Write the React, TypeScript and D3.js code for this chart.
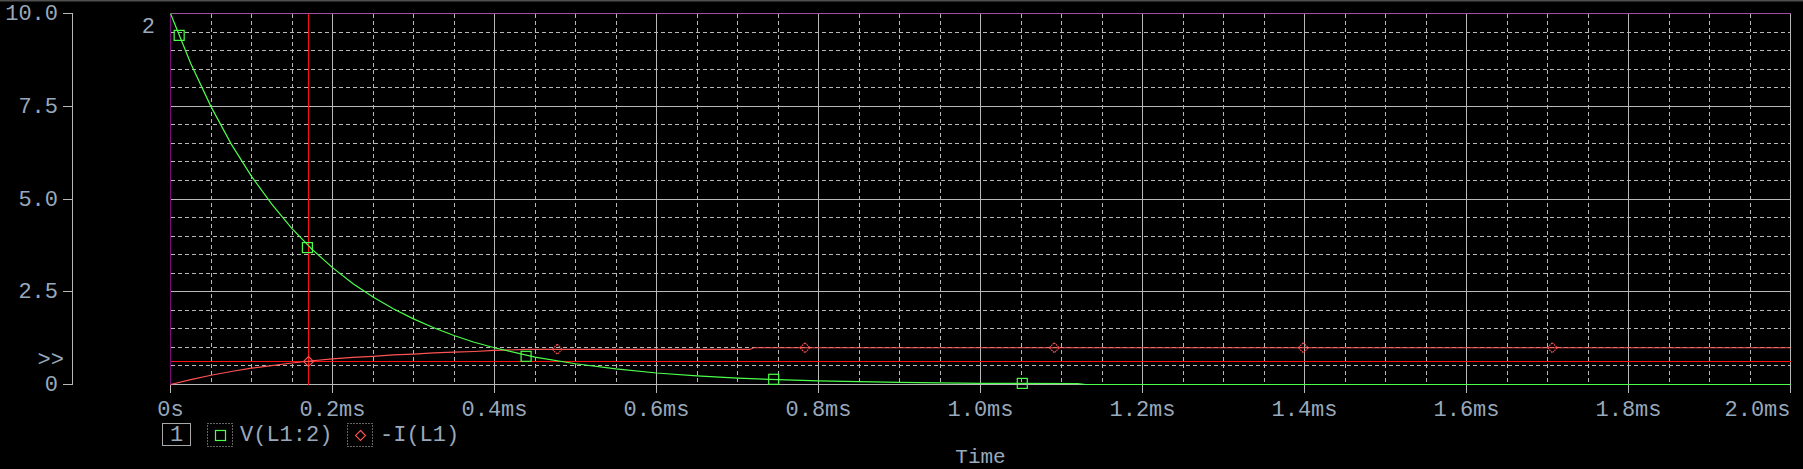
import React from "react";
import * as d3 from "d3";

// ---- data ----
const timeMs = [0, 0.025, 0.05, 0.075, 0.1, 0.125, 0.15, 0.175, 0.2, 0.225, 0.25, 0.275, 0.3, 0.325, 0.35, 0.375, 0.4, 0.45, 0.5, 0.55, 0.6, 0.65, 0.7, 0.75, 0.8, 0.9, 1.0, 1.12, 1.13, 1.5, 2.0];
const vL1 = [10, 8.65, 7.49, 6.48, 5.61, 4.86, 4.2, 3.64, 3.15, 2.72, 2.36, 2.04, 1.77, 1.53, 1.32, 1.14, 0.99, 0.74, 0.56, 0.42, 0.31, 0.23, 0.17, 0.13, 0.1, 0.055, 0.03, 0.025, 0, 0, 0];
const iTimeMs = [0, 0.025, 0.05, 0.075, 0.1, 0.125, 0.15, 0.175, 0.2, 0.225, 0.25, 0.275, 0.3, 0.325, 0.35, 0.375, 0.4, 0.44, 0.715, 0.72, 1.0, 1.5, 2.0];
const iL1 = [0, 0.13, 0.25, 0.35, 0.44, 0.51, 0.58, 0.64, 0.69, 0.73, 0.76, 0.8, 0.82, 0.85, 0.87, 0.89, 0.92, 0.945, 0.945, 0.99, 0.99, 0.99, 0.99];

const vMarkerTimes = [0.0107, 0.169, 0.439, 0.7447, 1.0516];
const vMarkerValues = [9.41, 3.69, 0.76, 0.14, 0.03];
const iMarkerTimes = [0.4775, 0.7833, 1.0911, 1.3985, 1.7059];
const iMarkerValues = [0.95, 0.99, 0.99, 0.99, 0.99];

const cursorTime = 0.1704;
const cursorValue = 0.62;

const xTicks = [0, 0.2, 0.4, 0.6, 0.8, 1.0, 1.2, 1.4, 1.6, 1.8, 2.0];
const xTickLabels = ["0s", "0.2ms", "0.4ms", "0.6ms", "0.8ms", "1.0ms", "1.2ms", "1.4ms", "1.6ms", "1.8ms", "2.0ms"];
const yTicks = [0, 2.5, 5, 7.5, 10];
const yTickLabels = ["0", "2.5", "5.0", "7.5", "10.0"];
const legendNames = ["V(L1:2)", "-I(L1)"];

const W = 1803;
const H = 469;
const FONT = "'Liberation Mono', 'DejaVu Sans Mono', monospace";
const TEXT = "#98a9bb";
const GRID = "#b8b8b8";
const GREEN = "#4cff4c";
const RED = "#ff5353";

export default function App() {
  const x = d3.scaleLinear().domain([0, 2]).range([170.5, 1790.5]);
  const y = d3.scaleLinear().domain([0, 10]).range([384.5, 13.5]);
  const px = (v: number) => Math.floor(v) + 0.5;

  const minorX = d3.range(0, 41).map((i) => i * 0.05).filter((t, i) => i % 4 !== 0);
  const minorY = d3.range(0, 21).map((i) => i * 0.5).filter((v, i) => i % 5 !== 0);

  const line = d3
    .line<[number, number]>()
    .x((d) => x(d[0]))
    .y((d) => y(d[1]));
  const vPath = line(timeMs.map((t, i) => [t, vL1[i]]) as [number, number][]) || "";
  const iPath = line(iTimeMs.map((t, i) => [t, iL1[i]]) as [number, number][]) || "";

  const left = x(0), right = x(2), top = y(10), bottom = y(0);

  const diamond = (cx: number, cy: number, r: number) =>
    `M${cx},${cy - r}L${cx + r},${cy}L${cx},${cy + r}L${cx - r},${cy}Z`;

  const cx = px(x(cursorTime));
  const cy = px(y(cursorValue));

  return (
    <div style={{ position: "fixed", left: 0, top: 0, width: W, height: H, background: "#000" }}>
      <svg width={W} height={H} style={{ display: "block", background: "#000" }}>
        <rect x={0} y={0} width={W} height={1.5} fill="#4f4f4f" />

        {/* minor vertical grid */}
        {minorX.map((t, i) => (
          <line key={"mx" + i} x1={px(x(t))} x2={px(x(t))} y1={top} y2={bottom}
            stroke={GRID} strokeDasharray="4,3" shapeRendering="crispEdges" />
        ))}
        {/* minor horizontal grid */}
        {minorY.map((v, i) => (
          <line key={"my" + i} x1={left} x2={right} y1={px(y(v))} y2={px(y(v))}
            stroke={GRID} strokeDasharray="4,3" shapeRendering="crispEdges" />
        ))}
        {/* major horizontal grid */}
        {yTicks.filter((v) => v > 0 && v < 10).map((v, i) => (
          <line key={"My" + i} x1={left} x2={right} y1={px(y(v))} y2={px(y(v))}
            stroke={GRID} shapeRendering="crispEdges" />
        ))}
        {/* major vertical grid + ticks */}
        {xTicks.map((t, i) => (
          <line key={"Mx" + i} x1={px(x(t))} x2={px(x(t))} y1={i === 0 ? bottom : top} y2={393}
            stroke={GRID} shapeRendering="crispEdges" />
        ))}
        {/* bottom axis */}
        <line x1={left} x2={right} y1={bottom} y2={bottom} stroke={GRID} shapeRendering="crispEdges" />
        {/* top and left purple borders */}
        <line x1={left} x2={right} y1={top} y2={top} stroke="#a24fa2" shapeRendering="crispEdges" />
        <line x1={left} x2={left} y1={top} y2={bottom} stroke="#7d0a7d" shapeRendering="crispEdges" />

        {/* left value axis */}
        <line x1={72.5} x2={72.5} y1={top} y2={bottom} stroke={GRID} shapeRendering="crispEdges" />
        {yTicks.map((v, i) => (
          <g key={"yt" + i}>
            <line x1={63} x2={72.5} y1={px(y(v))} y2={px(y(v))} stroke={GRID} shapeRendering="crispEdges" />
            <text x={58} y={y(v) + 1} fill={TEXT} fontFamily={FONT} fontSize={22}
              textAnchor="end" dominantBaseline="central">{yTickLabels[i]}</text>
          </g>
        ))}
        <text x={155} y={27} fill={TEXT} fontFamily={FONT} fontSize={22} textAnchor="end" dominantBaseline="central">2</text>
        <text x={64} y={360} fill={TEXT} fontFamily={FONT} fontSize={22} textAnchor="end" dominantBaseline="central">&gt;&gt;</text>

        {/* x tick labels */}
        {xTicks.map((t, i) => (
          <text key={"xt" + i} x={i === xTicks.length - 1 ? right : x(t)} y={410}
            fill={TEXT} fontFamily={FONT} fontSize={22}
            textAnchor={i === xTicks.length - 1 ? "end" : "middle"} dominantBaseline="central">
            {xTickLabels[i]}
          </text>
        ))}

        {/* cursor lines */}
        <line x1={cx} x2={cx} y1={top} y2={bottom} stroke="#ff1010" shapeRendering="crispEdges" />
        <line x1={left} x2={right} y1={cy} y2={cy} stroke="#ff1010" shapeRendering="crispEdges" />

        {/* traces */}
        <path d={iPath} fill="none" stroke={RED} strokeWidth={1.2} />
        <path d={vPath} fill="none" stroke={GREEN} strokeWidth={1.2} />

        {/* markers */}
        {vMarkerTimes.map((t, i) => (
          <rect key={"vm" + i} x={x(t) - 5} y={y(vMarkerValues[i]) - 5} width={10} height={10}
            fill="none" stroke={GREEN} strokeWidth={1.2} />
        ))}
        {iMarkerTimes.map((t, i) => (
          <path key={"im" + i} d={diamond(x(t), y(iMarkerValues[i]), 5)} fill="none" stroke={RED}
            strokeWidth={1.1} strokeDasharray="1.6,0.8" />
        ))}
        {/* cursor marker */}
        <path d={diamond(cx, cy, 5)} fill="none" stroke={RED} strokeWidth={1.1} />
        <line x1={cx - 5} x2={cx + 5} y1={cy} y2={cy} stroke={RED} />

        {/* legend */}
        <rect x={162.5} y={423.5} width={28} height={22} fill="none" stroke="#a8a8a8" />
        <text x={176.5} y={435} fill={TEXT} fontFamily={FONT} fontSize={22} textAnchor="middle" dominantBaseline="central">1</text>

        <rect x={207.5} y={423.5} width={25} height={23} fill="none" stroke="#c8c8c8" strokeDasharray="1,2" />
        <rect x={215.5} y={430.5} width={10} height={10} fill="none" stroke={GREEN} strokeWidth={1.2} />
        <text x={240} y={435} fill={TEXT} fontFamily={FONT} fontSize={22} dominantBaseline="central">{legendNames[0]}</text>

        <rect x={347.5} y={423.5} width={25} height={23} fill="none" stroke="#c8c8c8" strokeDasharray="1,2" />
        <path d={diamond(360.5, 435.5, 5)} fill="none" stroke={RED} strokeWidth={1.1} />
        <text x={380} y={435} fill={TEXT} fontFamily={FONT} fontSize={22} dominantBaseline="central">{legendNames[1]}</text>

        <text x={(left + right) / 2} y={457} fill={TEXT} fontFamily={FONT} fontSize={21} textAnchor="middle" dominantBaseline="central">Time</text>
      </svg>
    </div>
  );
}
